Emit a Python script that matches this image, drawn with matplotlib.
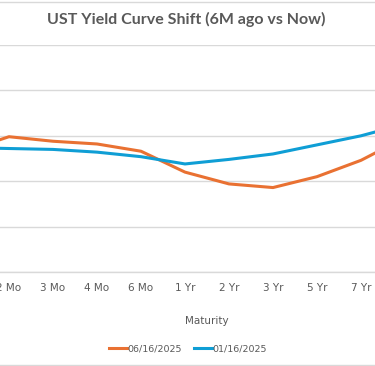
import matplotlib
matplotlib.use('Agg')
import matplotlib.pyplot as plt
from matplotlib.lines import Line2D

# Treasury yields (%) by maturity
tenors = ['1 Mo', '2 Mo', '3 Mo', '4 Mo', '6 Mo', '1 Yr', '2 Yr', '3 Yr',
          '5 Yr', '7 Yr', '10 Yr']
jun_2025 = [4.33, 4.49, 4.44, 4.41, 4.33, 4.10, 3.97, 3.93, 4.05, 4.23, 4.48]
jan_2025 = [4.37, 4.36, 4.35, 4.32, 4.27, 4.19, 4.24, 4.30, 4.40, 4.50, 4.63]
series_labels = ['06/16/2025', '01/16/2025']

ORANGE = '#E97132'
BLUE = '#0F9ED5'
GREY_TXT = '#595959'
GRID = '#D9D9D9'

W, H = 375, 366
fig = plt.figure(figsize=(W / 100, H / 100), dpi=100)
# plot area is wider than the picture: the crop shows 2 Mo .. 7 Yr
ax = fig.add_axes([0, (H - 272) / H, 1, 227 / H])

x = list(range(len(tenors)))
ax.plot(x, jun_2025, color=ORANGE, lw=2.2, label=series_labels[0],
        solid_joinstyle='round', zorder=3)
ax.plot(x, jan_2025, color=BLUE, lw=2.2, label=series_labels[1],
        solid_joinstyle='round', zorder=3)

ax.set_xticks(x)
ax.set_xticklabels(tenors, fontsize=7.5, color=GREY_TXT)
ax.tick_params(axis='x', length=0, pad=8)
# category spacing 44 px, "2 Mo" centred at 9 px (set after the ticks)
ax.set_xlim(1 - 9 / 44, 1 + (W - 9) / 44)
ax.set_yticks([3.0, 3.5, 4.0, 4.5, 5.0, 5.5])
ax.set_yticklabels([])
ax.tick_params(axis='y', length=0)
ax.set_ylim(3.0, 5.5)
ax.grid(axis='y', color=GRID, lw=1)
ax.set_axisbelow(True)
for s in ['left', 'right', 'top']:
    ax.spines[s].set_visible(False)
ax.spines['bottom'].set_color(GRID)
ax.spines['bottom'].set_linewidth(1)

ax.text(207 / W, -(320.5 - 272) / 227, 'Maturity', transform=ax.transAxes,
        ha='center', va='center', fontsize=7.5, color=GREY_TXT)

fig.text(186.5 / W, 1 - 19 / H, 'UST Yield Curve Shift (6M ago vs Now)',
         ha='center', va='center', fontsize=11.5, fontweight='bold',
         color=GREY_TXT, family='Lato')

ax.legend(loc='center', bbox_to_anchor=(188 / W, 1 - 348.5 / H),
          bbox_transform=fig.transFigure, ncol=2, frameon=False,
          fontsize=6.8, handlelength=1.9, handletextpad=0.1,
          columnspacing=1.2, labelcolor=GREY_TXT)

# chart-area border (only top and bottom edges fall inside the crop)
for yp in [1.5, 364.5]:
    fig.add_artist(Line2D([0, 1], [1 - yp / H, 1 - yp / H],
                          transform=fig.transFigure, color=GRID, lw=1))

fig.savefig('out.png', dpi=100)
